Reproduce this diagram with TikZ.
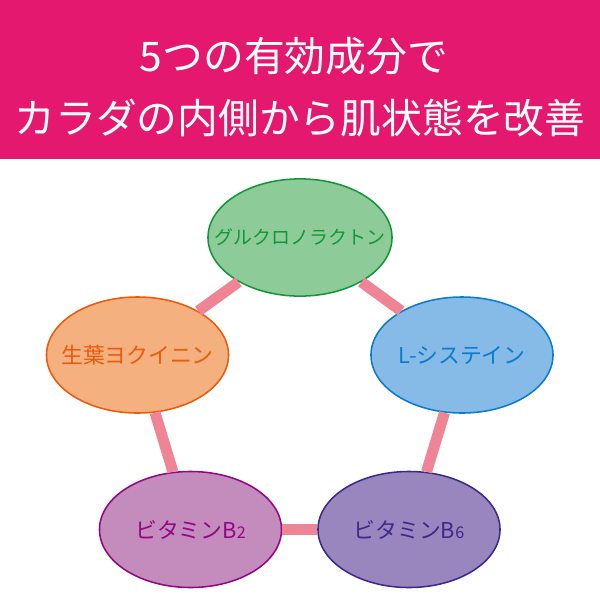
\documentclass[tikz,border=0pt]{standalone}
\usepackage{fontspec}
\newfontfamily\cjk{Noto Sans CJK JP}
\usetikzlibrary{shapes.geometric}
\definecolor{banner}{HTML}{E4186E}
\definecolor{link}{HTML}{EF8495}
\definecolor{gfill}{HTML}{8DCB98}\definecolor{gline}{HTML}{14963B}
\definecolor{ofill}{HTML}{F4B07E}\definecolor{oline}{HTML}{EA5B0C}
\definecolor{bfill}{HTML}{85BBE6}\definecolor{bline}{HTML}{0A7CCB}
\definecolor{pfill}{HTML}{C48BBD}\definecolor{pline}{HTML}{920783}
\definecolor{vfill}{HTML}{9A86BE}\definecolor{vline}{HTML}{3C2A8A}
\tikzset{
  elli/.style={ellipse, inner sep=0pt, line width=1.1pt, minimum width=4.55cm, minimum height=2.9cm},
  lbl/.style={font=\cjk\fontsize{15.5}{18}\selectfont, inner sep=0pt},
  linkline/.style={line width=7.8pt, link},
  titletext/.style={text=white, font=\cjk\fontsize{29}{34}\selectfont, inner sep=0pt}
}
\begin{document}
\begin{tikzpicture}[x=0.025cm,y=-0.025cm]
\useasboundingbox (0,0) rectangle (600,600);
\fill[banner] (0,0) rectangle (600,159);
\node[titletext] (t1) at (294,56) {5つの有効成分で};
\node[titletext] (t2) at (300,118) {カラダの内側から肌状態を改善};
\node[elli, draw=gline, fill=gfill, minimum width=4.6cm, minimum height=2.93cm] (g) at (300,237.5) {};
\node[elli, draw=oline, fill=ofill] (o) at (137.5,355) {};
\node[elli, draw=bline, fill=bfill] (b) at (462,355) {};
\node[elli, draw=pline, fill=pfill] (p) at (190.5,529.5) {};
\node[elli, draw=vline, fill=vfill] (v) at (409,529.5) {};
\draw[linkline] (g) -- (o);
\draw[linkline] (g) -- (b);
\draw[linkline] (b) -- (v);
\draw[linkline] (v) -- (p);
\draw[linkline] (p) -- (o);
\node[lbl, text=gline, font=\cjk\fontsize{13.5}{16}\selectfont] (gt) at (g.center) {グルクロノラクトン};
\node[lbl, text=oline] (ot) at (o.center) {生葉ヨクイニン};
\node[lbl, text=bline] (bt) at (b.center) {L-システイン};
\node[lbl, text=pline] (pt) at (p.center) {ビタミンB{\fontsize{11.5}{12}\selectfont 2}};
\node[lbl, text=vline] (vt) at (v.center) {ビタミンB{\fontsize{11.5}{12}\selectfont 6}};
\end{tikzpicture}
\end{document}
